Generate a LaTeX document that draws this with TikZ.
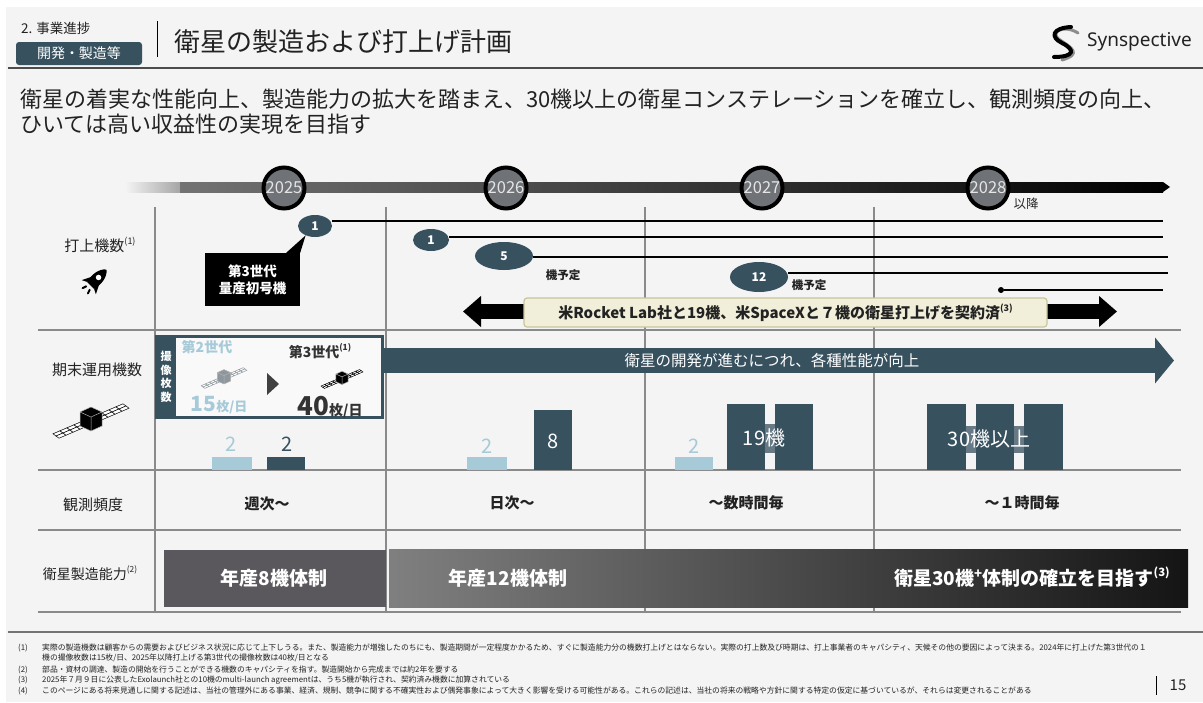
\documentclass[tikz,border=0pt]{standalone}
\usepackage{fontspec}
\setmainfont{Noto Sans CJK JP}
\newfontfamily\logofont{Noto Sans}
\usetikzlibrary{arrows.meta,shapes.geometric,positioning}

\definecolor{slate}{HTML}{37515F}
\definecolor{paleblue}{HTML}{A6CAD8}
\definecolor{slidebg}{HTML}{F4F4F4}
\definecolor{gridgray}{HTML}{8A8A8A}
\definecolor{mfgdark}{HTML}{5B585D}
\definecolor{contractbg}{HTML}{F1EFD9}
\definecolor{contractrim}{HTML}{C9C49B}
\definecolor{yearfill}{HTML}{6F7377}
\definecolor{inkblack}{HTML}{222222}
\definecolor{satgray}{HTML}{8E979D}

\newcommand{\fsz}[1]{\fontsize{#1}{#1}\selectfont}
\newcommand{\supref}[1]{\raisebox{.45em}{\scalebox{.6}{(#1)}}}

\begin{document}
\begin{tikzpicture}[x=1pt, y=-1pt,
  every node/.style={inner sep=0pt, text=inkblack},
  rowlabel/.style={font=\fsz{15}},
  gridline/.style={draw=gridgray, line width=1.1pt},
  yearball/.style={circle, draw=black, line width=4pt, fill=yearfill, minimum size=41pt, text=white!90!black, font=\fsz{16.5}},
  launch/.style={ellipse, fill=slate, text=white, font=\bfseries\fsz{12}},
  launchline/.style={draw=black, line width=1.8pt},
  planned/.style={font=\bfseries\fsz{11.5}},
  freq/.style={font=\bfseries\fsz{15}},
  barnum/.style={font=\fsz{20}},
  mfgtext/.style={text=white, font=\bfseries\fsz{19}},
  note/.style={anchor=west, font=\fsz{7.8}, text=inkblack},
  pics/satellite/.style={code={
    % solar panel strip
    \begin{scope}[x={(7pt,3pt)}, y={(3pt,-2.2pt)}]
      \foreach \i in {-5,...,4}
        \foreach \j in {-1,0}
          \draw[draw=#1, fill=white, line width=.5pt] (\i,\j) -- ++(1,0) -- ++(0,1) -- ++(-1,0) -- cycle;
    \end{scope}
    % bus
    \draw[draw=gray!60, fill=#1, line width=.5pt, line join=round]
      (-11pt,9pt) -- (0pt,4pt) -- (0pt,-10pt) -- (-11pt,-5pt) -- cycle
      (0pt,4pt) -- (11pt,9pt) -- (11pt,-5pt) -- (0pt,-10pt) -- cycle
      (-11pt,9pt) -- (0pt,14pt) -- (11pt,9pt) -- (0pt,4pt) -- cycle;
  }}]

\useasboundingbox (0,0) rectangle (1203,702);
\fill[white] (0,0) rectangle (1203,702);
\fill[slidebg] (6,7) rectangle (1203,702);

% header
\node[anchor=west, font=\fsz{13.5}] (section) at (21,28) {2. 事業進捗};
\node[fill=slate, rounded corners=3pt, minimum width=126pt, minimum height=23pt, text=white, font=\fsz{14}] (tag) at (79,53.5) {開発・製造等};
\draw[line width=1pt] (157,21) -- (157,57);
\node[anchor=west, font=\fsz{26}] (title) at (174,42) {衛星の製造および打上げ計画};
\draw[line width=3pt, black!45, line cap=round] (1078,33) .. controls (1064,24) and (1048,32) .. (1060,40) .. controls (1072,48) and (1082,54) .. (1062,60);
\draw[line width=4pt, line cap=round] (1071,27) .. controls (1052,28) and (1050,37) .. (1062,43) .. controls (1076,50) and (1074,57) .. (1054,57);
\node[anchor=west, font=\logofont\fsz{19}] (brand) at (1087,42) {Synspective};
\draw[line width=1.6pt, draw=black!70] (8,68) -- (1203,68);

\node[anchor=west, font=\fsz{22}] (lead1) at (20,99) {衛星の着実な性能向上、製造能力の拡大を踏まえ、30機以上の衛星コンステレーションを確立し、観測頻度の向上、};
\node[anchor=west, font=\fsz{22}] (lead2) at (20,124) {ひいては高い収益性の実現を目指す};

% timeline
\shade[left color=slidebg, right color=black!35] (125,182) rectangle (180,192);
\shade[left color=black!55, right color=black] (180,182) rectangle (1163,192);
\fill (1163,182) -- (1170,187) -- (1163,192) -- cycle;
\node[yearball] (y2025) at (284,188) {2025};
\node[yearball] (y2026) at (506,188) {2026};
\node[yearball] (y2027) at (762,188) {2027};
\node[yearball] (y2028) at (988,188) {2028};
\node[font=\fsz{12.5}, text=black!85] (after) at (1026,204) {以降};

% table grid
\foreach \x in {155,386,645,874}
  \draw[gridline] (\x,207) -- (\x,612);
\foreach \y in {330,470,530,612}
  \draw[gridline] (38,\y) -- (1181,\y);

% row: launches
\node[rowlabel] (launchlabel) at (100,245) {打上機数\supref{1}};
\begin{scope}[shift={(95,281)}, rotate=-45, scale=1.25]
  \fill (0pt,13pt) .. controls (5pt,9pt) and (5.5pt,2pt) .. (4pt,-5pt) -- (-4pt,-5pt) .. controls (-5.5pt,2pt) and (-5pt,9pt) .. (0pt,13pt) -- cycle;
  \fill[white] (0pt,4pt) circle (2.2pt);
  \fill (-4pt,1pt) -- (-8pt,-7pt) -- (-4pt,-5pt) -- cycle;
  \fill (4pt,1pt) -- (8pt,-7pt) -- (4pt,-5pt) -- cycle;
  \draw[line width=2pt, line cap=round] (-2pt,-8pt) -- (-3pt,-11pt) (2pt,-8pt) -- (3pt,-11pt);
\end{scope}

\coordinate (end1) at (1163,221);
\coordinate (end2) at (1163,237);
\coordinate (end5) at (1168,257);
\coordinate (end12) at (1168,273);
\coordinate (end28) at (1163,290);
\node[launch, minimum width=34pt, minimum height=22pt] (l1) at (315,226) {1};
\node[launch, minimum width=36pt, minimum height=22pt] (l2) at (431,240) {1};
\node[launch, minimum width=58pt, minimum height=28pt] (l5) at (504,256) {5};
\node[launch, minimum width=58pt, minimum height=30pt] (l12) at (759,277) {12};
\node[circle, fill=black, minimum size=6pt] (d28) at (1001,290) {};
\draw[launchline] (l1.east |- end1) -- (end1);
\draw[launchline] (l2.east |- end2) -- (end2);
\draw[launchline] (l5.east |- end5) -- (end5);
\draw[launchline] (l12.east |- end12) -- (end12);
\draw[launchline] (d28) -- (end28);
\node[planned] (plan5) at (563,275) {機予定};
\node[planned] (plan12) at (809,285) {機予定};

\node[fill=black, text=white, font=\fontsize{13.5}{17}\selectfont\bfseries, align=center, minimum width=95pt, minimum height=53pt] (gen3first) at (252.5,279.5) {第3世代\\量産初号機};
\fill (gen3first.north east) ++(-14,0) -- (l1.225) -- (gen3first.north east) -- cycle;

\coordinate (contractL) at (463,311.5);
\coordinate (contractR) at (1117,311.5);
\draw[line width=15pt, {Triangle[length=18pt,width=30pt]}-{Triangle[length=18pt,width=30pt]}] (contractL) -- (contractR);
\node[fill=contractbg, draw=contractrim, line width=1.2pt, rounded corners=3pt, minimum width=523pt, minimum height=29pt, font=\bfseries\fsz{15}] (contract) at (785.5,312.5) {米Rocket Lab社と19機、米SpaceXと７機の衛星打上げを契約済\supref{3}};

% row: satellites in operation
\node[rowlabel] (fleetlabel) at (97,370) {期末運用機数};
\pic at (91,421) {satellite=black};

\coordinate (perfL) at (380,360.5);
\coordinate (perfR) at (1174,360.5);
\draw[slate, line width=25pt, -{Triangle[length=19pt,width=45pt]}] (perfL) -- (perfR);
\node[text=white, font=\fsz{15.5}] (progress) at (772,361) {衛星の開発が進むにつれ、各種性能が向上};

\node[draw=slate, line width=2.5pt, fill=white!45!slidebg, minimum width=226pt, minimum height=81pt] (specbox) at (269.5,377) {};
\fill[slate] (156,336) rectangle (176,418);
\node[text=white, font=\fontsize{11}{13.5}\selectfont\bfseries, align=center] (imgcount) at (166,377) {撮\\像\\枚\\数};
\node[font=\bfseries\fsz{14}, text=paleblue] (gen2) at (207,347) {第2世代};
\node[font=\bfseries\fsz{14}, text=black!80] (gen3) at (320,351) {第3世代\supref{1}};
\pic[scale=0.6] at (224,378) {satellite=satgray};
\pic[scale=0.55] at (342,379) {satellite=black};
\fill[black!75] (267,373) -- (279,384) -- (267,395) -- cycle;
\node[text=paleblue, font=\bfseries] (rate2) at (219,405) {{\fsz{21}15}{\fsz{13}枚/日}};
\node[text=black!80, font=\bfseries] (rate3) at (330,407) {{\fsz{26}40}{\fsz{14}枚/日}};

% bars (end-of-term fleet)
\fill[paleblue] (212,457) rectangle (252,470);
\fill[slate] (267,457) rectangle (305,470);
\node[barnum, text=paleblue] (n25a) at (231,444) {2};
\node[barnum, text=slate] (n25b) at (287,444) {2};

\fill[paleblue] (467,457) rectangle (507,470);
\fill[slate] (534,410) rectangle (572,470);
\node[barnum, text=paleblue] (n26a) at (487,446) {2};
\node[barnum, text=white] (n26b) at (553,441) {8};

\fill[paleblue] (675,457) rectangle (713,470);
\fill[slate] (727,404) rectangle (765,470);
\fill[slate] (775,404) rectangle (813,470);
\node[barnum, text=paleblue] (n27a) at (694,446) {2};
\node[barnum, text=white, fill=slate, fill opacity=.75, text opacity=1, minimum height=29pt, inner xsep=2pt] (n27b) at (764,438) {19機};

\fill[slate] (927,404) rectangle (966,470);
\fill[slate] (976,404) rectangle (1014,470);
\fill[slate] (1024,404) rectangle (1063,470);
\node[barnum, text=white, fill=slate, fill opacity=.75, text opacity=1, minimum height=27pt, inner xsep=2pt] (n28) at (989,439) {30機以上};

% row: observation frequency
\node[rowlabel] (freqlabel) at (93,505) {観測頻度};
\node[freq] (f25) at (267,504) {週次～};
\node[freq] (f26) at (512,503) {日次～};
\node[freq] (f27) at (746,503) {～数時間毎};
\node[freq] (f28) at (1022,503) {～１時間毎};

% row: manufacturing capacity
\node[rowlabel, font=\fsz{14}] (caplabel) at (90,573) {衛星製造能力\supref{2}};
\node[fill=mfgdark, minimum width=222pt, minimum height=57pt] (cap25box) at (275,578.5) {};
\node[mfgtext] (cap25) at (274,578) {年産8機体制};
\shade[left color=black!50, right color=black!92] (389,549) rectangle (1188,607);
\node[mfgtext] (cap26) at (508,578) {年産12機体制};
\node[mfgtext, anchor=east] (cap28) at (1170,577) {衛星30機\textsuperscript{+}体制の確立を目指す\supref{3}};

% notes
\draw[line width=2.5pt, draw=black!55] (8,632) -- (1203,632);
\node[note] (m1) at (18,648) {(1)};
\node[note] (t1a) at (42,648) {実際の製造機数は顧客からの需要およびビジネス状況に応じて上下しうる。また、製造能力が増強したのちにも、製造期間が一定程度かかるため、すぐに製造能力分の機数打上げとはならない。実際の打上数及び時期は、打上事業者のキャパシティ、天候その他の要因によって決まる。2024年に打上げた第3世代の１};
\node[note] (t1b) at (42,658) {機の撮像枚数は15枚/日、2025年以降打上げる第3世代の撮像枚数は40枚/日となる};
\node[note] (m2) at (18,670) {(2)};
\node[note] (t2) at (42,670) {部品・資材の調達、製造の開始を行うことができる機数のキャパシティを指す。製造開始から完成までは約2年を要する};
\node[note] (m3) at (18,680) {(3)};
\node[note] (t3) at (42,680) {2025年７月９日に公表したExolaunch社との10機のmulti-launch agreementは、うち5機が執行され、契約済み機数に加算されている};
\node[note] (m4) at (18,691) {(4)};
\node[note] (t4) at (42,691) {このページにある将来見通しに関する記述は、当社の管理外にある事業、経済、規制、競争に関する不確実性および偶発事象によって大きく影響を受ける可能性がある。これらの記述は、当社の将来の戦略や方針に関する特定の仮定に基づいているが、それらは変更されることがある};
\draw[line width=1pt] (1156,676) -- (1156,695);
\node[font=\fsz{15}] (pageno) at (1178,685) {15};
\end{tikzpicture}
\end{document}
